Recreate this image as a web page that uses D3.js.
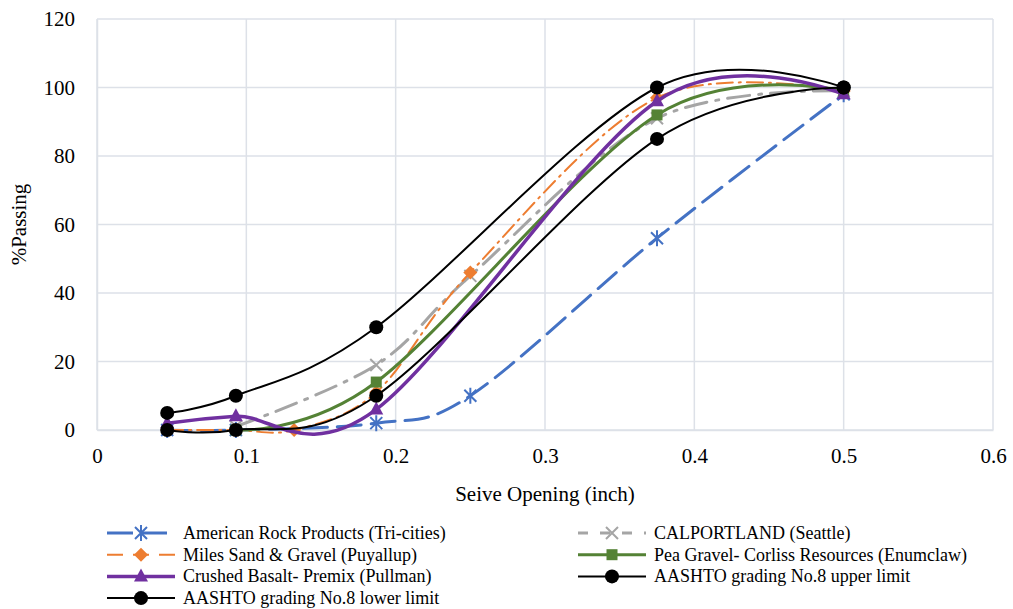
<html>
<meta charset="utf-8" />
<script src="https://d3js.org/d3.v7.min.js"></script>
<style>
  text { font-family: "Liberation Serif", "Times New Roman", "DejaVu Serif", serif; }
</style>
<body style="margin:0;background:#fff">
<svg id="chart" width="1013" height="609"></svg>
<script>
// sieve openings (inch) and % passing per series
const americanX = [0.047, 0.093, 0.187, 0.25, 0.375, 0.5];
const americanY = [0, 0, 2, 10, 56, 98];
const calportX = [0.093, 0.187, 0.25, 0.375, 0.5];
const calportY = [1, 19, 45, 91, 99];
const milesX = [0.047, 0.093, 0.132, 0.187, 0.25, 0.375, 0.5];
const milesY = [0, 0, 0, 11, 46, 97, 99];
const peaX = [0.093, 0.187, 0.375, 0.5];
const peaY = [0, 14, 92, 99];
const basaltX = [0.047, 0.093, 0.187, 0.375, 0.5];
const basaltY = [2, 4, 6, 96, 98];
const upperX = [0.047, 0.093, 0.187, 0.375, 0.5];
const upperY = [5, 10, 30, 100, 100];
const lowerX = [0.047, 0.093, 0.187, 0.375, 0.5];
const lowerY = [0, 0, 10, 85, 100];

const xTicks = [0, 0.1, 0.2, 0.3, 0.4, 0.5, 0.6];
const yTicks = [0, 20, 40, 60, 80, 100, 120];

const series = [
  { name: "American Rock Products (Tri-cities)", xs: americanX, ys: americanY, color: "#4472C4", width: 3, dash: "24,10", marker: "star", col: 0, row: 0 },
  { name: "CALPORTLAND (Seattle)", xs: calportX, ys: calportY, color: "#A5A5A5", width: 3, dash: "22,9,3,9", marker: "x", col: 1, row: 0 },
  { name: "Miles Sand & Gravel (Puyallup)", xs: milesX, ys: milesY, color: "#ED7D31", width: 2, dash: "16,6,2,6", marker: "diamond", col: 0, row: 1 },
  { name: "Pea Gravel- Corliss Resources (Enumclaw)", xs: peaX, ys: peaY, color: "#548235", width: 3, dash: null, marker: "square", col: 1, row: 1 },
  { name: "Crushed Basalt- Premix (Pullman)", xs: basaltX, ys: basaltY, color: "#7030A0", width: 3.5, dash: null, marker: "triangle", col: 0, row: 2 },
  { name: "AASHTO grading No.8 upper limit", xs: upperX, ys: upperY, color: "#000000", width: 2, dash: null, marker: "circle", col: 1, row: 2 },
  { name: "AASHTO grading No.8 lower limit", xs: lowerX, ys: lowerY, color: "#000000", width: 2, dash: null, marker: "circle", col: 0, row: 3 }
];

const svg = d3.select("#chart");
const mLeft = 97, mTop = 19, width = 896, height = 411;

const x = d3.scaleLinear().domain([0, 0.6]).range([mLeft, mLeft + width]);
const y = d3.scaleLinear().domain([0, 120]).range([mTop + height, mTop]);

// gridlines
const grid = svg.append("g").attr("stroke", "#dde1e8").attr("stroke-width", 1.5);
grid.selectAll(".h").data(yTicks).enter().append("line")
  .attr("x1", mLeft).attr("x2", mLeft + width)
  .attr("y1", d => y(d)).attr("y2", d => y(d));
grid.selectAll(".v").data(xTicks).enter().append("line")
  .attr("y1", mTop).attr("y2", mTop + height)
  .attr("x1", d => x(d)).attr("x2", d => x(d));

// axes
const yAxis = svg.append("g").attr("transform", `translate(${mLeft},0)`)
  .call(d3.axisLeft(y).tickValues(yTicks).tickSize(0).tickPadding(22));
const xAxis = svg.append("g").attr("transform", `translate(0,${mTop + height})`)
  .call(d3.axisBottom(x).tickValues(xTicks).tickSize(0).tickPadding(18).tickFormat(d => d === 0 ? "0" : d3.format(".1f")(d)));
[xAxis, yAxis].forEach(a => {
  a.attr("font-family", null).attr("font-size", null);
  a.select(".domain").attr("stroke", "#dde1e8").attr("stroke-width", 1.5);
  a.selectAll("text").style("font-size", "21px").attr("fill", "#000");
});

svg.append("text")
  .attr("x", x(0.3)).attr("y", 501)
  .attr("text-anchor", "middle")
  .style("font-size", "21px")
  .text("Seive Opening (inch)");
svg.append("text")
  .attr("transform", `translate(26,${mTop + height / 2}) rotate(-90)`)
  .attr("text-anchor", "middle")
  .style("font-size", "21px")
  .text("%Passing");

function drawMarker(g, type, color, cx, cy) {
  if (type === "circle") {
    g.append("circle").attr("cx", cx).attr("cy", cy).attr("r", 7).attr("fill", color);
  } else if (type === "square") {
    g.append("rect").attr("x", cx - 5.5).attr("y", cy - 5.5).attr("width", 11).attr("height", 11).attr("fill", color);
  } else if (type === "diamond") {
    g.append("path").attr("d", `M${cx},${cy - 7}L${cx + 7},${cy}L${cx},${cy + 7}L${cx - 7},${cy}Z`).attr("fill", color);
  } else if (type === "triangle") {
    g.append("path").attr("d", `M${cx},${cy - 8}L${cx + 7},${cy + 5}L${cx - 7},${cy + 5}Z`).attr("fill", color);
  } else if (type === "x") {
    g.append("path").attr("d", `M${cx - 6},${cy - 6}L${cx + 6},${cy + 6}M${cx + 6},${cy - 6}L${cx - 6},${cy + 6}`)
      .attr("stroke", color).attr("stroke-width", 2);
  } else if (type === "star") {
    g.append("path").attr("d", `M${cx - 6},${cy - 6}L${cx + 6},${cy + 6}M${cx + 6},${cy - 6}L${cx - 6},${cy + 6}M${cx},${cy - 8}L${cx},${cy + 8}`)
      .attr("stroke", color).attr("stroke-width", 2);
  }
}

const line = d3.line()
  .x(d => x(d[0])).y(d => y(d[1]))
  .curve(d3.curveCardinal.tension(0));

const plot = svg.append("g");
series.forEach(s => {
  const pts = s.xs.map((v, i) => [v, s.ys[i]]);
  plot.append("path")
    .datum(pts)
    .attr("d", line)
    .attr("fill", "none")
    .attr("stroke", s.color)
    .attr("stroke-width", s.width)
    .attr("stroke-dasharray", s.dash)
    .attr("stroke-linecap", s.dash ? "round" : "butt");
  const mg = plot.append("g");
  pts.forEach(p => drawMarker(mg, s.marker, s.color, x(p[0]), y(p[1])));
});

// legend
const legend = svg.append("g");
const colX = [107, 578];
series.forEach(s => {
  const ly = 533 + s.row * 21.7;
  const lx = colX[s.col];
  const g = legend.append("g");
  g.append("line")
    .attr("x1", lx).attr("x2", lx + 68)
    .attr("y1", ly).attr("y2", ly)
    .attr("stroke", s.color).attr("stroke-width", s.width)
    .attr("stroke-dasharray", s.dash ? (s.marker === "star" ? "26,8" : s.marker === "x" ? "10,12" : "16,10") : null);
  drawMarker(g, s.marker, s.color, lx + 34, ly);
  g.append("text")
    .attr("x", lx + 76).attr("y", ly + 6)
    .style("font-size", "18px")
    .text(s.name);
});
</script>
</body>
</html>
